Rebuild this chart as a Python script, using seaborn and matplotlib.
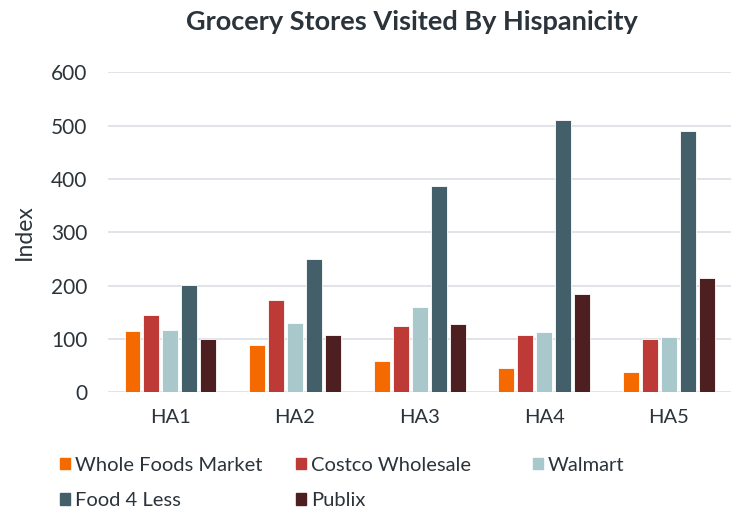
import pandas as pd
import matplotlib.pyplot as plt
import seaborn as sns

groups = ["HA1", "HA2", "HA3", "HA4", "HA5"]
stores = ["Whole Foods Market", "Costco Wholesale", "Walmart", "Food 4 Less", "Publix"]
whole_foods = [114, 89, 59, 45, 37]
costco = [145, 172, 124, 107, 100]
walmart = [117, 130, 160, 112, 103]
food4less = [201, 250, 386, 510, 489]
publix = [99, 107, 127, 184, 214]

colors = ["#F46A00", "#BE3A37", "#A8C8CC", "#435F6A", "#4D1F20"]
text_col = "#2B333B"

rows = []
for store, vals in zip(stores, [whole_foods, costco, walmart, food4less, publix]):
    for g, v in zip(groups, vals):
        rows.append({"group": g, "store": store, "value": v})
df = pd.DataFrame(rows)

sns.set_style("white")
plt.rcParams["font.family"] = ["Lato", "DejaVu Sans"]

fig = plt.figure(figsize=(7.35, 5.12), dpi=100)
ax = fig.add_axes([0.147, 0.234, 0.848, 0.625])

sns.barplot(data=df, x="group", y="value", hue="store", hue_order=stores,
            palette=colors, saturation=1, width=0.76, gap=0.16, ax=ax,
            legend=False, edgecolor="white", linewidth=0.6)

ax.set_ylim(0, 600)
ax.set_yticks(range(0, 601, 100))
ax.grid(axis="y", color="#DDE2E6", linewidth=1.3)
ax.set_axisbelow(True)
sns.despine(ax=ax, left=True, bottom=True)
ax.tick_params(axis="both", length=0, colors=text_col)
ax.tick_params(axis="x", labelsize=14.5, pad=12)
ax.tick_params(axis="y", labelsize=15, pad=15)
ax.set_xlabel("")
ax.set_ylabel("Index", fontsize=16.5, color=text_col)
ax.yaxis.set_label_coords(-0.118, 0.5)

fig.text(0.56, 0.958, "Grocery Stores Visited By Hispanicity", ha="center", va="center",
         fontsize=19.5, fontweight="bold", color=text_col)

# legend laid out row by row, one small legend per column
handles = [plt.Rectangle((0, 0), 1, 1, color=c) for c in colors]
columns = [([0, 3], 0.082), ([1, 4], 0.403), ([2], 0.725)]
for idx, x0 in columns:
    fig.legend([handles[i] for i in idx], [stores[i] for i in idx],
               loc="upper left", bbox_to_anchor=(x0, 0.108),
               frameon=False, fontsize=14.5, labelcolor=text_col,
               handlelength=0.5, handleheight=0.5, handletextpad=0.25,
               labelspacing=0.92, borderaxespad=0, borderpad=0)

fig.savefig("out.png", dpi=100)
